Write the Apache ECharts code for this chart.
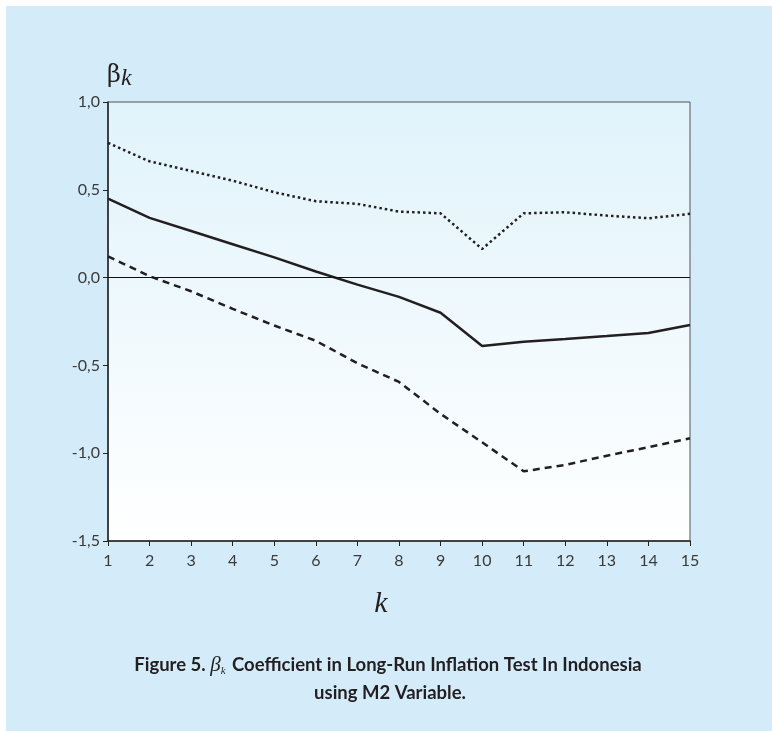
<!DOCTYPE html>
<html>
<head>
<meta charset="utf-8">
<script src="https://cdn.jsdelivr.net/npm/echarts@6/dist/echarts.min.js"></script>
<style>
  html, body { margin: 0; padding: 0; background: #ffffff; }
  #chart { width: 772px; height: 731px; }
</style>
</head>
<body>
<div id="chart"></div>
<script>
// Lag horizon k
const kValues = [1, 2, 3, 4, 5, 6, 7, 8, 9, 10, 11, 12, 13, 14, 15];
// Estimated beta_k coefficient
const betaEstimate = [0.45, 0.34, 0.265, 0.19, 0.115, 0.035, -0.04, -0.11, -0.20, -0.39, -0.365, -0.35, -0.333, -0.315, -0.27];
// Upper confidence band
const upperBand = [0.767, 0.662, 0.607, 0.552, 0.486, 0.435, 0.42, 0.376, 0.366, 0.163, 0.366, 0.372, 0.353, 0.338, 0.363];
// Lower confidence band
const lowerBand = [0.121, 0.008, -0.078, -0.178, -0.273, -0.36, -0.488, -0.594, -0.776, -0.938, -1.103, -1.067, -1.014, -0.966, -0.915];
// Y tick labels use a decimal comma
const yTickLabels = { '1': '1,0', '0.5': '0,5', '0': '0,0', '-0.5': '-0,5', '-1': '-1,0', '-1.5': '-1,5' };

const pairs = arr => arr.map((v, i) => [kValues[i], v]);
const ink = '#231f20';
const tickFont = { color: '#3a3a3a', fontFamily: 'Lato', fontSize: 16 };

const chart = echarts.init(document.getElementById('chart'), null, { renderer: 'canvas' });

chart.setOption({
  animation: false,
  backgroundColor: '#ffffff',
  grid: {
    left: 108, right: 82, top: 102, bottom: 190,
    show: true,
    borderColor: '#555555',
    borderWidth: 1,
    backgroundColor: {
      type: 'linear', x: 0, y: 0, x2: 0, y2: 1,
      colorStops: [
        { offset: 0, color: '#e0f3fb' },
        { offset: 1, color: '#ffffff' }
      ]
    }
  },
  xAxis: {
    type: 'value',
    min: 1, max: 15, interval: 1,
    axisLine: { show: true, onZero: false, lineStyle: { color: '#222', width: 1.5 } },
    axisTick: { show: true, inside: false, length: 5, lineStyle: { color: '#222' } },
    splitLine: { show: false },
    axisLabel: Object.assign({ margin: 12 }, tickFont)
  },
  yAxis: {
    type: 'value',
    min: -1.5, max: 1, interval: 0.5,
    axisLine: { show: true, onZero: false, lineStyle: { color: '#222', width: 1.5 } },
    axisTick: { show: true, inside: false, length: 5, lineStyle: { color: '#222' } },
    splitLine: { show: false },
    axisLabel: Object.assign({
      margin: 8,
      formatter: v => yTickLabels[String(v)] ?? String(v)
    }, tickFont)
  },
  series: [
    {
      type: 'line', data: pairs(betaEstimate), showSymbol: false,
      lineStyle: { color: ink, width: 2.5, type: 'solid' },
      markLine: {
        silent: true, symbol: 'none', label: { show: false },
        lineStyle: { color: '#111', width: 1, type: 'solid' },
        data: [{ yAxis: 0 }]
      },
      z: 3
    },
    {
      type: 'line', data: pairs(upperBand), showSymbol: false,
      lineStyle: { color: ink, width: 2.5, type: [2.5, 3] },
      z: 3
    },
    {
      type: 'line', data: pairs(lowerBand), showSymbol: false,
      lineStyle: { color: ink, width: 2.5, type: [7, 5] },
      z: 3
    }
  ],
  graphic: [
    {
      type: 'rect', z: -10, silent: true,
      shape: { x: 6, y: 6, width: 800, height: 800 },
      style: { fill: '#d4ecf9' }
    },
    {
      type: 'text', left: 107, top: 64, z: 5,
      style: {
        text: '{b|β}{k|k}',
        rich: {
          b: { fontFamily: 'DejaVu Serif', fontSize: 24, fill: '#231f20' },
          k: { fontFamily: 'Liberation Serif', fontStyle: 'italic', fontSize: 24, fill: '#231f20', padding: [6, 0, 0, 0] }
        }
      }
    },
    {
      type: 'text', x: 381, y: 604, z: 5,
      style: {
        text: 'k', fontFamily: 'Liberation Serif', fontStyle: 'italic', fontSize: 30,
        fill: '#231f20', align: 'center', verticalAlign: 'middle'
      }
    },
    {
      type: 'text', x: 388, y: 665, z: 5,
      style: {
        text: '{t|Figure 5. }{b|β}{s|k}{t| Coefficient in Long-Run Inflation Test In Indonesia}',
        align: 'center', verticalAlign: 'middle',
        rich: {
          t: { fontFamily: 'Lato', fontWeight: 'bold', fontSize: 18.5, fill: '#231f20', lineHeight: 24 },
          b: { fontFamily: 'Liberation Serif', fontStyle: 'italic', fontSize: 21, fill: '#231f20', lineHeight: 24 },
          s: { fontFamily: 'Liberation Serif', fontStyle: 'italic', fontSize: 11, fill: '#231f20', lineHeight: 24, verticalAlign: 'bottom', padding: [0, 2, 0, 0] }
        }
      }
    },
    {
      type: 'text', x: 390, y: 693, z: 5,
      style: {
        text: 'using M2 Variable.',
        fontFamily: 'Lato', fontWeight: 'bold', fontSize: 18.5, fill: '#231f20',
        align: 'center', verticalAlign: 'middle'
      }
    }
  ]
});
</script>
</body>
</html>
